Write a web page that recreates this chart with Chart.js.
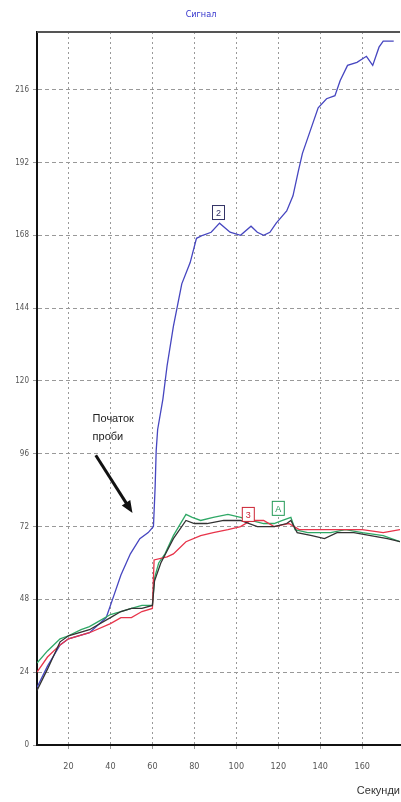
<!DOCTYPE html>
<html>
<head>
<meta charset="utf-8">
<script src="https://cdn.jsdelivr.net/npm/chart.js@4"></script>
<style>
  html, body { margin: 0; padding: 0; background: #fff; }
  #wrap { width: 401px; height: 802px; }
</style>
</head>
<body>
<div id="wrap"><canvas id="chart"></canvas></div>
<script>
// tick labels
const xTicks = [20, 40, 60, 80, 100, 120, 140, 160];
const yTicks = [0, 24, 48, 72, 96, 120, 144, 168, 192, 216];

// series 2 (blue)
const blueT = [5, 10, 16, 20, 30, 38, 41, 45, 49.5, 54, 58, 60.5, 61.3, 61.8, 62.5, 65, 67, 70, 72, 74, 78, 81, 84, 88, 92, 97, 102, 107, 110, 113, 116, 119, 124, 127, 129.5, 131.5, 135, 139, 143, 147, 149.5, 153, 157.5, 162, 165, 168, 170, 175];
const blueV = [19, 26, 33, 35, 37, 42, 48, 56, 63, 68, 70, 72, 85, 97, 104, 114, 125, 138, 145, 152, 159, 167, 168, 169, 172, 169, 168, 171, 169, 168, 169, 172, 176, 181, 189, 195, 202, 210, 213, 214, 219, 224, 225, 227, 224, 230, 232, 232];

// series A (green)
const greenT = [5, 10, 16, 20, 26, 30, 35, 40, 45, 50, 55, 60, 61, 63, 66, 70, 76, 79, 83, 89, 96, 102, 107, 113, 118, 122, 126, 128, 134, 140, 145, 152, 160, 170, 178];
const greenV = [27, 31, 35, 36, 38, 39, 41, 43, 44, 45, 46, 46, 55, 60, 63, 69, 76, 75, 74, 75, 76, 75, 74, 73, 73, 74, 75, 71, 70, 70, 70, 71, 70, 69, 67];

// series 3 (red)
const redT = [5, 10, 16, 20, 30, 40, 45, 50, 55, 60, 60.8, 67, 70, 76, 83, 89, 96, 102, 107, 113, 118, 125, 130, 140, 150, 160, 170, 178];
const redV = [24, 29, 33, 35, 37, 40, 42, 42, 44, 45, 61, 62, 63, 67, 69, 70, 71, 72, 74, 74, 72, 73, 71, 71, 71, 71, 70, 71];

// series 1 (black)
const blackT = [5, 10, 16, 20, 30, 40, 45, 50, 55, 60, 61, 64, 70, 76, 80, 86, 94, 102, 110, 118, 124, 126, 129, 136, 142, 148, 156, 164, 172, 178];
const blackV = [18, 25, 34, 36, 38, 42, 44, 45, 45, 46, 54, 60, 68, 74, 73, 73, 74, 74, 72, 72, 73, 74, 70, 69, 68, 70, 70, 69, 68, 67];

// callout boxes: [t, value, text, colour]
const callouts = [
  [91.5, 175.5, '2', '#333366'],
  [105.7, 76, '3', '#cc2233'],
  [120, 78, 'A', '#229955']
];

function pts(t, v) {
  return t.map((x, i) => ({ x: x, y: v[i] }));
}

const decorPlugin = {
  id: 'decor',
  afterDraw(chart) {
    const ctx = chart.ctx;
    const a = chart.chartArea;
    const xs = chart.scales.x, ys = chart.scales.y;
    ctx.save();
    // top frame line
    ctx.strokeStyle = '#555';
    ctx.lineWidth = 2;
    ctx.beginPath();
    ctx.moveTo(a.left, a.top);
    ctx.lineTo(a.right, a.top);
    ctx.stroke();

    // title
    ctx.fillStyle = '#3333cc';
    ctx.font = '9px "DejaVu Sans Condensed", "DejaVu Sans"';
    ctx.textAlign = 'center';
    ctx.textBaseline = 'middle';
    ctx.fillText('Сигнал', 201, 15);

    // callout boxes
    ctx.font = '9px "Liberation Sans", Arial';
    callouts.forEach(c => {
      const px = xs.getPixelForValue(c[0]);
      const py = ys.getPixelForValue(c[1]);
      ctx.fillStyle = '#fff';
      ctx.fillRect(px - 6, py - 7, 12, 14);
      ctx.strokeStyle = c[3];
      ctx.lineWidth = 1;
      ctx.strokeRect(px - 6, py - 7, 12, 14);
      ctx.fillStyle = c[3];
      ctx.fillText(c[2], px, py + 1);
    });

    // annotation text
    ctx.fillStyle = '#222';
    ctx.font = '11px "Liberation Sans", Arial';
    ctx.textAlign = 'left';
    const tx = xs.getPixelForValue(31.5);
    ctx.fillText('Початок', tx, ys.getPixelForValue(107.5));
    ctx.fillText('проби', tx, ys.getPixelForValue(101.5));

    // arrow
    const x1 = xs.getPixelForValue(33), y1 = ys.getPixelForValue(95.5);
    const x2 = xs.getPixelForValue(50.5), y2 = ys.getPixelForValue(76.5);
    const ang = Math.atan2(y2 - y1, x2 - x1);
    ctx.strokeStyle = '#111';
    ctx.lineWidth = 3;
    ctx.beginPath();
    ctx.moveTo(x1, y1);
    ctx.lineTo(x2 - 8 * Math.cos(ang), y2 - 8 * Math.sin(ang));
    ctx.stroke();
    ctx.fillStyle = '#111';
    ctx.beginPath();
    ctx.moveTo(x2, y2);
    ctx.lineTo(x2 - 12 * Math.cos(ang) + 5 * Math.sin(ang), y2 - 12 * Math.sin(ang) - 5 * Math.cos(ang));
    ctx.lineTo(x2 - 12 * Math.cos(ang) - 5 * Math.sin(ang), y2 - 12 * Math.sin(ang) + 5 * Math.cos(ang));
    ctx.closePath();
    ctx.fill();
    ctx.restore();
  }
};

const lineStyle = { pointRadius: 0, borderWidth: 1.3, tension: 0, fill: false };

new Chart(document.getElementById('chart'), {
  type: 'line',
  data: {
    datasets: [
      Object.assign({ label: '1', data: pts(blackT, blackV), borderColor: '#333333' }, lineStyle),
      Object.assign({ label: '3', data: pts(redT, redV), borderColor: '#e8344a' }, lineStyle),
      Object.assign({ label: 'A', data: pts(greenT, greenV), borderColor: '#2fa866' }, lineStyle),
      Object.assign({ label: '2', data: pts(blueT, blueV), borderColor: '#4646c0' }, lineStyle)
    ]
  },
  options: {
    responsive: true,
    maintainAspectRatio: false,
    animation: false,
    layout: { padding: { top: 32, right: 1, left: 0, bottom: 0 } },
    plugins: {
      legend: { display: false },
      title: { display: false },
      tooltip: { enabled: false }
    },
    scales: {
      x: {
        type: 'linear',
        min: 5,
        max: 178,
        afterBuildTicks: s => { s.ticks = xTicks.map(v => ({ value: v })); },
        afterFit: s => { s.height = 57; },
        grid: { color: '#999', lineWidth: 1, tickLength: 4, drawTicks: true },
        border: { color: '#111', width: 2, dash: [2, 3] },
        ticks: { color: '#555', font: { family: '"DejaVu Sans Condensed", "DejaVu Sans"', size: 9 }, padding: 12, maxRotation: 0 },
        title: { display: true, text: 'Секунди', align: 'end', color: '#333', font: { family: '"Liberation Sans", Arial', size: 11 }, padding: { top: 2 } }
      },
      y: {
        type: 'linear',
        min: 0,
        max: 235,
        afterBuildTicks: s => { s.ticks = yTicks.map(v => ({ value: v })); },
        afterFit: s => { s.width = 37; },
        grid: { color: '#999', lineWidth: 1, tickLength: 4 },
        border: { color: '#111', width: 2, dash: [4, 3] },
        ticks: { color: '#555', font: { family: '"DejaVu Sans Condensed", "DejaVu Sans"', size: 8 }, padding: 4 }
      }
    }
  },
  plugins: [decorPlugin]
});
</script>
</body>
</html>
